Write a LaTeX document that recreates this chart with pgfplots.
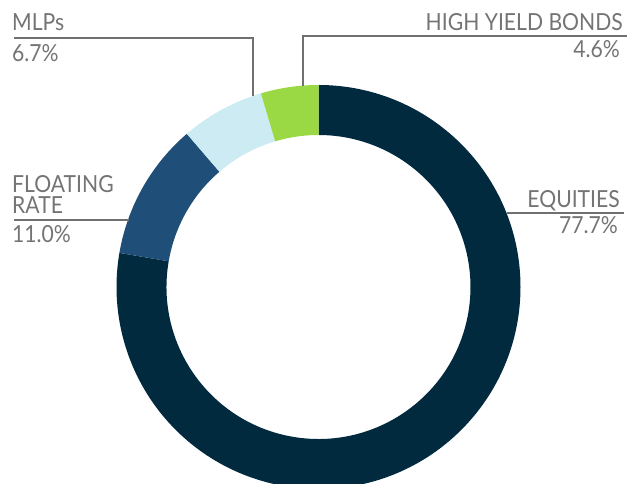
\documentclass[border=0pt]{standalone}
\usepackage{pgfplots}
\usepackage{pgfplotstable}
\pgfplotsset{compat=1.18}
\usepackage{fontspec}
\setmainfont{Lato}[FakeStretch=0.9]
\definecolor{eqcol}{HTML}{022A3E}
\definecolor{frcol}{HTML}{1F4F78}
\definecolor{mlpcol}{HTML}{CDEBF3}
\definecolor{hycol}{HTML}{9AD943}
\definecolor{txtcol}{HTML}{747474}
\definecolor{lncol}{HTML}{707070}
\pgfplotstableread{
name value
EQUITIES 77.7
FLOATING 11.0
MLPs 6.7
HY 4.6
}\sharetable
\def\cx{318.5}\def\cy{197}\def\ro{202}\def\ri{152}
\newcommand\slice[3]{%
  \fill[#3] (axis cs:{\cx+\ro*cos(#1)},{\cy+\ro*sin(#1)}) arc[start angle=#1,end angle=#2,radius=\ro pt]
     -- (axis cs:{\cx+\ri*cos(#2)},{\cy+\ri*sin(#2)}) arc[start angle=#2,end angle=#1,radius=\ri pt] -- cycle;}
\begin{document}
\begin{tikzpicture}
\clip (0,0) rectangle (627pt,484pt);
\pgfplotstablegetelem{0}{value}\of\sharetable \let\va\pgfplotsretval
\pgfplotstablegetelem{1}{value}\of\sharetable \let\vb\pgfplotsretval
\pgfplotstablegetelem{2}{value}\of\sharetable \let\vc\pgfplotsretval
\pgfplotstablegetelem{3}{value}\of\sharetable \let\vd\pgfplotsretval
\pgfmathsetmacro\aA{90}
\pgfmathsetmacro\aB{\aA-3.6*\va}
\pgfmathsetmacro\aC{\aB-3.6*\vb}
\pgfmathsetmacro\aD{\aC-3.6*\vc}
\pgfmathsetmacro\aE{\aD-3.6*\vd}
\begin{axis}[x=1pt,y=1pt,xmin=0,xmax=627,ymin=0,ymax=484,
  scale only axis,hide axis,clip=false,anchor=origin,at={(0,0)}]
\addplot[draw=none,forget plot] coordinates {(0,0)};
\slice{\aA}{\aB}{eqcol}
\slice{\aB}{\aC}{frcol}
\slice{\aC}{\aD}{mlpcol}
\slice{\aD}{\aE}{hycol}
% leader lines
\draw[lncol,line width=1.6pt] (axis cs:14,446) -- (axis cs:253,446) -- (axis cs:253,388);
\draw[lncol,line width=1.6pt] (axis cs:627,448) -- (axis cs:303,448) -- (axis cs:303,398);
\draw[lncol,line width=1.6pt] (axis cs:14,264) -- (axis cs:129,264);
\draw[lncol,line width=1.6pt] (axis cs:507,271) -- (axis cs:624,271);
\tikzset{lbl/.style={inner sep=0pt,text=txtcol,font=\fontsize{23.5}{21}\selectfont}}
\node[lbl,anchor=base west] at (axis cs:12,453) {MLPs};
\node[lbl,anchor=base west] at (axis cs:12,422) {6.7\%};
\node[lbl,anchor=base east] at (axis cs:623,453) {HIGH YIELD BONDS};
\node[lbl,anchor=base east] at (axis cs:620,426) {4.6\%};
\node[lbl,anchor=base west,align=left] at (axis cs:12,270) {FLOATING\\RATE};
\node[lbl,anchor=base west] at (axis cs:12,241) {11.0\%};
\node[lbl,anchor=base east] at (axis cs:620,276) {EQUITIES};
\node[lbl,anchor=base east] at (axis cs:618,250) {77.7\%};
\end{axis}
\end{tikzpicture}
\end{document}
